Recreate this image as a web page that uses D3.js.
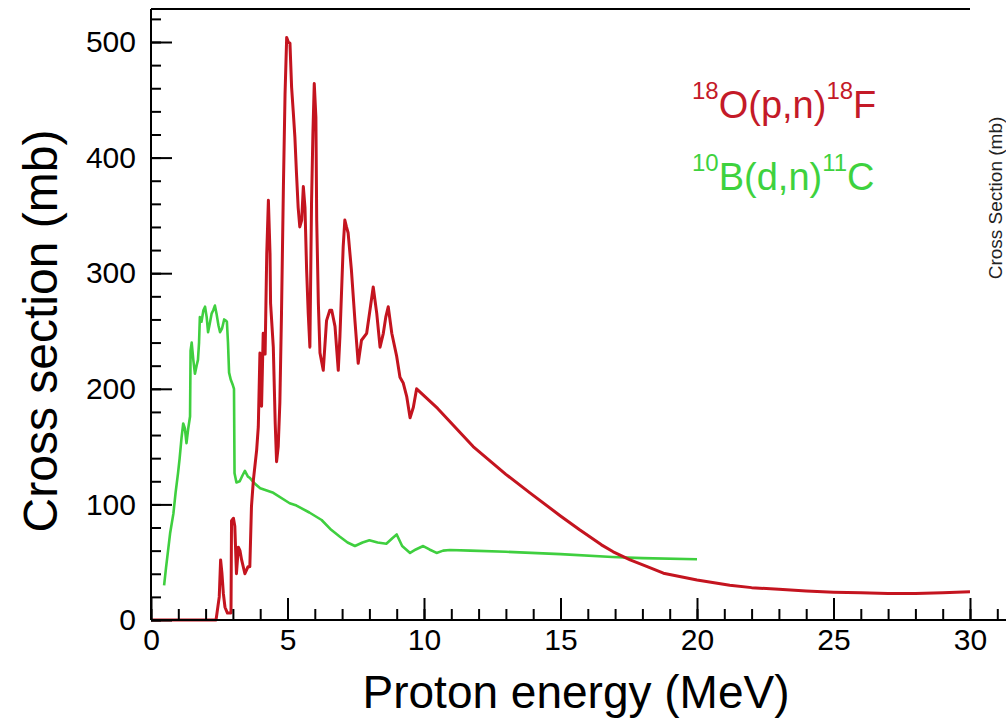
<!DOCTYPE html>
<html><head><meta charset="utf-8">
<script src="https://cdn.jsdelivr.net/npm/d3@7"></script>
<style>
html,body{margin:0;padding:0;background:#fff;}
svg{display:block;font-family:"Liberation Sans",Arial,Helvetica,sans-serif;}
</style></head>
<body>
<svg id="c" width="1006" height="724"></svg>
<script>
// ---- data (energy MeV, cross section mb) ----
const redEnergy = [0,2.38,2.4,2.5,2.55,2.6,2.65,2.71,2.8,2.93,2.95,3.02,3.07,3.13,3.2,3.26,3.32,3.44,3.55,3.62,3.68,3.75,3.87,3.93,3.99,4.05,4.11,4.18,4.24,4.3,4.36,4.38,4.48,4.55,4.6,4.66,4.72,4.78,4.85,4.91,4.97,5.03,5.09,5.15,5.21,5.27,5.33,5.39,5.45,5.52,5.58,5.64,5.7,5.76,5.82,5.88,5.93,5.98,6.04,6.07,6.13,6.19,6.31,6.43,6.55,6.62,6.74,6.86,6.92,7.04,7.1,7.16,7.22,7.34,7.47,7.59,7.71,7.9,8.02,8.14,8.27,8.39,8.51,8.6,8.69,8.82,9.0,9.12,9.24,9.37,9.49,9.61,9.73,10.5,11.8,13.0,13.88,15.0,15.7,16.5,16.93,17.55,18.2,18.77,20.0,21.2,22.0,23.0,24,25,26,27,28,29,30];
const redXS = [0,0,3,20,52,40,23,11,6,6,86,88,81,40,63,60,52,40,46,46,98,121,147,167,231,185,248,230,317,363,317,274,236,170,137,150,188,265,375,455,504,500,499,461,440,418,386,357,340,346,375,357,303,265,236,360,420,464,435,346,274,231,216,259,268,268,254,216,245,323,346,340,335,303,259,222,242,248,268,288,265,236,248,262,271,248,228,210,205,193,175,184,200,183,150,126,110,90,78,65,59,52,46,40.5,34.6,30,28,26.5,25,24,23.5,23,23,23.5,24.5];

const greenEnergy = [0.48,0.55,0.6,0.7,0.82,0.9,0.99,1.05,1.12,1.18,1.24,1.3,1.36,1.43,1.45,1.49,1.55,1.61,1.67,1.72,1.76,1.79,1.85,1.92,1.98,2.04,2.09,2.15,2.22,2.28,2.34,2.4,2.47,2.53,2.6,2.68,2.74,2.78,2.82,2.86,2.92,3.0,3.04,3.06,3.13,3.25,3.35,3.44,3.55,3.62,3.8,4.0,4.48,5.08,5.33,5.8,6.25,6.6,6.92,7.2,7.47,7.75,8.0,8.3,8.62,8.85,9.0,9.2,9.49,9.7,9.97,10.2,10.46,10.7,10.95,11.7,13,15,16.9,18,20];
const greenXS = [30,45,55,75,92,110,127,140,158,170,166,153,165,176,233,240,225,213,220,225,240,262,258,268,271,262,249,256,265,268,272,265,255,249,252,260,259,258,240,214,208,203,200,127,119,120,125,129,124,123,118,114,110,101,99,93,86.5,78,72,67,64,67,69,67,66,71,74,64,58,61,64,61,58,60,60.5,60,59,57,54.5,53.5,52.5];

const xTickLabels = ["0","5","10","15","20","25","30"];
const xMajorTicks = [0,5,10,15,20,25,30];
const yTickLabels = ["0","100","200","300","400","500"];
const yMajorTicks = [0,100,200,300,400,500];

const redName = {pre:"18", main:"O(p,n)", mid:"18", post:"F"};
const greenName = {pre:"10", main:"B(d,n)", mid:"11", post:"C"};

// ---- drawing ----
const svg = d3.select("#c");
const x = d3.scaleLinear().domain([0,30]).range([151,970]);
const y = d3.scaleLinear().domain([0,500]).range([620,42]);

const redData = redEnergy.map((e,i)=>[e,redXS[i]]);
const greenData = greenEnergy.map((e,i)=>[e,greenXS[i]]);
const line = d3.line().x(d=>x(d[0])).y(d=>y(d[1]));

svg.append("path").datum(greenData).attr("d",line)
  .attr("fill","none").attr("stroke","#3fcf3f").attr("stroke-width",2.6).attr("stroke-linejoin","round");
svg.append("path").datum(redData).attr("d",line)
  .attr("fill","none").attr("stroke","#c4141f").attr("stroke-width",3).attr("stroke-linejoin","round");

// frame lines
const topV = y.invert(9);
svg.append("line").attr("x1",x(0)).attr("x2",x(30)).attr("y1",y(topV)).attr("y2",y(topV))
  .attr("stroke","#000").attr("stroke-width",2);
svg.append("line").attr("x1",x(0)).attr("x2",x(0)).attr("y1",y(topV)).attr("y2",y(0))
  .attr("stroke","#000").attr("stroke-width",2);
svg.append("line").attr("x1",x(0)).attr("x2",1006).attr("y1",y(0)).attr("y2",y(0))
  .attr("stroke","#000").attr("stroke-width",2);

// y minor ticks
const yMinor = svg.append("g").attr("transform",`translate(${x(0)},0)`)
  .call(d3.axisLeft(y).tickValues(d3.range(0,521,20)).tickSize(-10).tickFormat(""));
// y major ticks with labels
const yMajor = svg.append("g").attr("transform",`translate(${x(0)},0)`)
  .call(d3.axisLeft(y).tickValues(yMajorTicks).tickSize(-21).tickPadding(15)
    .tickFormat((d,i)=>yTickLabels[i]));
// x minor ticks
const xMinor = svg.append("g").attr("transform",`translate(0,${y(0)})`)
  .call(d3.axisBottom(x).tickValues(d3.range(0,32,1)).tickSize(-11).tickFormat(""));
const xMajor = svg.append("g").attr("transform",`translate(0,${y(0)})`)
  .call(d3.axisBottom(x).tickValues(xMajorTicks).tickSize(-22).tickPadding(9)
    .tickFormat((d,i)=>xTickLabels[i]));

[yMinor,yMajor,xMinor,xMajor].forEach(g=>{
  g.select(".domain").remove();
  g.selectAll(".tick line").attr("stroke","#000").attr("stroke-width",2);
  g.selectAll("text").attr("font-size",30).attr("fill","#000")
    .attr("font-family",'"Liberation Sans",Arial,sans-serif');
});

// axis titles
svg.append("text").attr("x",576).attr("y",708).attr("text-anchor","middle")
  .attr("font-size",46).attr("fill","#000").text("Proton energy (MeV)");
svg.append("text").attr("transform","translate(57,331) rotate(-90)").attr("text-anchor","middle")
  .attr("font-size",48).attr("fill","#000").text("Cross section (mb)");
svg.append("text").attr("transform","translate(1002,198) rotate(-90)").attr("text-anchor","middle")
  .attr("font-size",19).attr("fill","#222").text("Cross Section (mb)");

// legend labels
function legend(nm, x0, base, color){
  const t = svg.append("text").attr("x",x0).attr("y",base).attr("fill",color);
  t.append("tspan").attr("font-size",24).attr("dy",-19).text(nm.pre);
  t.append("tspan").attr("font-size",38).attr("dy",19).text(nm.main);
  t.append("tspan").attr("font-size",24).attr("dy",-19).text(nm.mid);
  t.append("tspan").attr("font-size",38).attr("dy",19).text(nm.post);
}
legend(redName, 692, 118, "#c41a28");
legend(greenName, 692, 190, "#3ed23e");
</script>
</body></html>
